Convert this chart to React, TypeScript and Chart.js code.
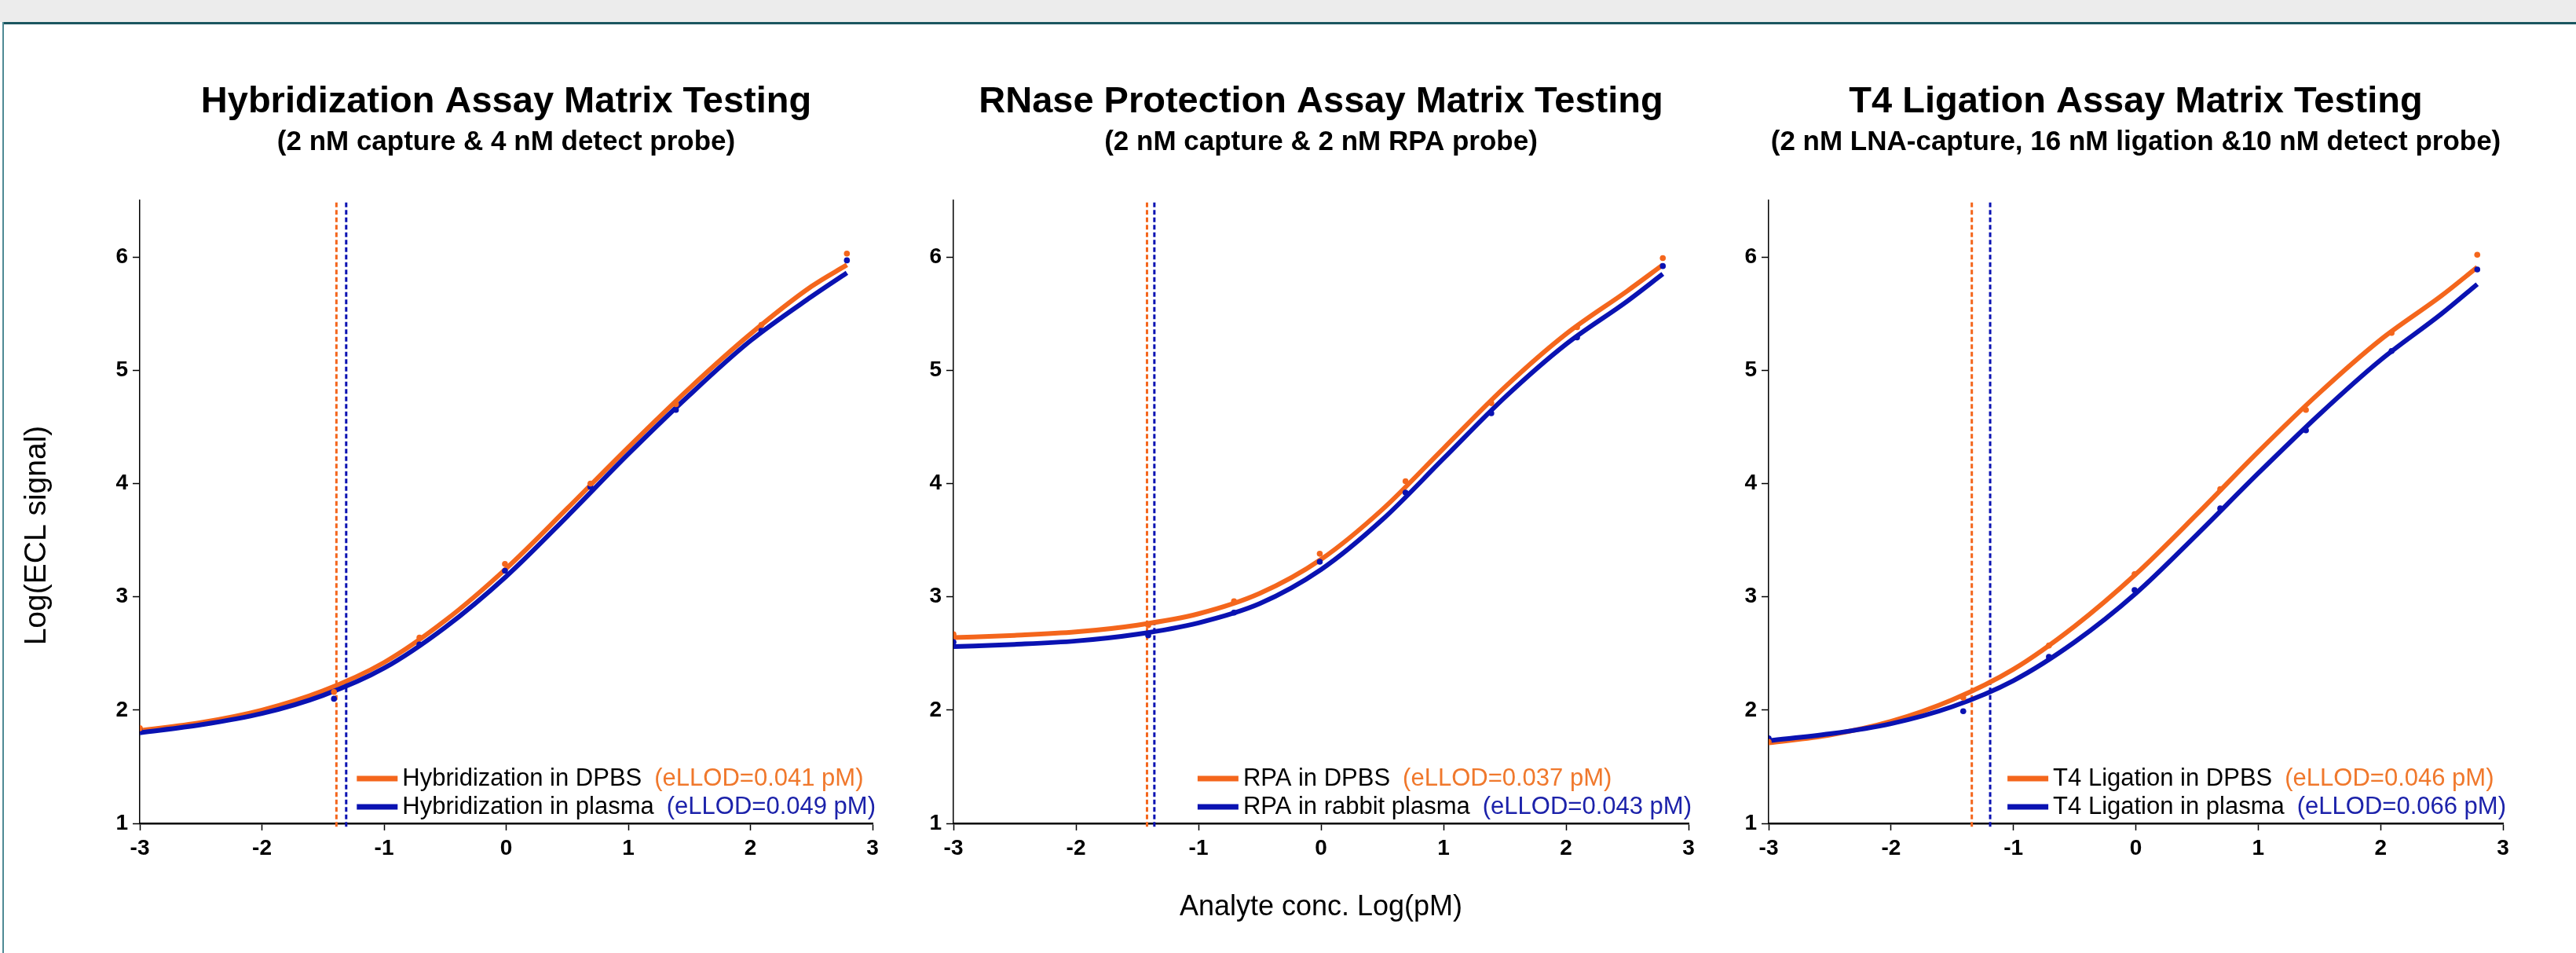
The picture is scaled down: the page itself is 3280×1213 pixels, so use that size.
import { useEffect, useRef } from "react";
import { Chart, registerables } from "chart.js";

Chart.register(...registerables);

const FONT = "'Liberation Sans', Arial, sans-serif";

const X_TICKS = [-3, -2, -1, 0, 1, 2, 3];
const Y_TICKS = [1, 2, 3, 4, 5, 6];

// log10 of analyte concentration (pM); -3 is the blank
const CONC_LOG = [-3, -1.41, -0.71, -0.01, 0.69, 1.39, 2.09, 2.79];
const FIT_X = [-3, -2.5, -2, -1.5, -1, -0.5, 0, 0.5, 1, 1.5, 2, 2.5, 2.79];

// Hybridization assay
const HYB_DPBS_PTS = [1.84, 2.16, 2.64, 3.29, 4.0, 4.7, 5.4, 6.03];
const HYB_PLASMA_PTS = [1.83, 2.1, 2.58, 3.23, 3.97, 4.65, 5.35, 5.97];
const HYB_DPBS_FIT = [1.82, 1.89, 2.0, 2.17, 2.42, 2.79, 3.25, 3.78, 4.32, 4.84, 5.32, 5.74, 5.93];
const HYB_PLASMA_FIT = [1.8, 1.87, 1.97, 2.13, 2.37, 2.73, 3.18, 3.71, 4.26, 4.78, 5.26, 5.65, 5.86];
const HYB_LLOD = [-1.39, -1.31];

// RNase protection assay
const RPA_DPBS_PTS = [2.67, 2.75, 2.96, 3.38, 4.02, 4.71, 5.38, 5.99];
const RPA_PLASMA_PTS = [2.6, 2.66, 2.86, 3.31, 3.92, 4.62, 5.29, 5.92];
const RPA_DPBS_FIT = [2.64, 2.66, 2.69, 2.75, 2.85, 3.03, 3.33, 3.77, 4.31, 4.85, 5.32, 5.7, 5.93];
const RPA_PLASMA_FIT = [2.56, 2.58, 2.61, 2.67, 2.77, 2.94, 3.24, 3.68, 4.22, 4.76, 5.23, 5.61, 5.85];
const RPA_LLOD = [-1.42, -1.36];

// T4 ligation assay
const T4_DPBS_PTS = [1.72, 2.11, 2.57, 3.2, 3.95, 4.65, 5.33, 6.02];
const T4_PLASMA_PTS = [1.75, 1.99, 2.47, 3.06, 3.78, 4.47, 5.17, 5.89];
const T4_DPBS_FIT = [1.71, 1.78, 1.9, 2.09, 2.36, 2.74, 3.2, 3.73, 4.28, 4.8, 5.27, 5.66, 5.91];
const T4_PLASMA_FIT = [1.73, 1.79, 1.88, 2.03, 2.26, 2.6, 3.03, 3.55, 4.09, 4.61, 5.09, 5.5, 5.76];
const T4_LLOD = [-1.34, -1.19];

const TITLES = [
  "Hybridization Assay Matrix Testing",
  "RNase Protection Assay Matrix Testing",
  "T4 Ligation Assay Matrix Testing",
];
const SUBTITLES = [
  "(2 nM capture & 4 nM detect probe)",
  "(2 nM capture & 2 nM RPA probe)",
  "(2 nM LNA-capture, 16 nM ligation &10 nM detect probe)",
];
const DPBS_LABELS = ["Hybridization in DPBS", "RPA in DPBS", "T4 Ligation in DPBS"];
const PLASMA_LABELS = ["Hybridization in plasma", "RPA in rabbit plasma", "T4 Ligation in plasma"];
const DPBS_LLOD_TEXT = ["(eLLOD=0.041 pM)", "(eLLOD=0.037 pM)", "(eLLOD=0.046 pM)"];
const PLASMA_LLOD_TEXT = ["(eLLOD=0.049 pM)", "(eLLOD=0.043 pM)", "(eLLOD=0.066 pM)"];

const Y_TITLE = "Log(ECL signal)";
const X_TITLE = "Analyte conc. Log(pM)";

const ORANGE = "#F4661C";
const BLUE = "#0A12B2";
const ORANGE_TEXT = "#F0782C";
const BLUE_TEXT = "#1C22AA";

const PANELS = [
  { pts: [HYB_DPBS_PTS, HYB_PLASMA_PTS], fit: [HYB_DPBS_FIT, HYB_PLASMA_FIT], llod: HYB_LLOD },
  { pts: [RPA_DPBS_PTS, RPA_PLASMA_PTS], fit: [RPA_DPBS_FIT, RPA_PLASMA_FIT], llod: RPA_LLOD },
  { pts: [T4_DPBS_PTS, T4_PLASMA_PTS], fit: [T4_DPBS_FIT, T4_PLASMA_FIT], llod: T4_LLOD },
];

// layout (page pixels)
const CANVAS_TOP = 30;
const CANVAS_H = 1183;
const AXIS_W = 178;
const RIGHT_PAD = 60;
const PLOT_LEFT = [178, 1214, 2252];
const PLOT_RIGHT = [1111, 2150, 3187];

const decorPlugin = {
  id: "panelDecor",
  afterDraw(chart: any, _args: any, opts: any) {
    const { ctx, chartArea } = chart;
    if (!opts || !opts.title) return;
    ctx.save();
    const cx = (chartArea.left + chartArea.right) / 2;
    ctx.fillStyle = "#000";
    ctx.textAlign = "center";
    ctx.textBaseline = "middle";
    ctx.font = `bold 47px ${FONT}`;
    ctx.fillText(opts.title, cx, chartArea.top - 125);
    ctx.font = `bold 35px ${FONT}`;
    ctx.fillText(opts.subtitle, cx, chartArea.top - 74);

    if (opts.yTitle) {
      ctx.save();
      ctx.translate(47, (chartArea.top + chartArea.bottom) / 2 + 30);
      ctx.rotate(-Math.PI / 2);
      ctx.font = `39px ${FONT}`;
      ctx.fillText(opts.yTitle, 0, 0);
      ctx.restore();
    }

    ctx.font = `31px ${FONT}`;
    const gap = 16;
    const rows = opts.rows;
    const widths = rows.map(
      (r: any) => ctx.measureText(r.label).width + gap + ctx.measureText(r.llod).width
    );
    const maxW = Math.max(...widths);
    const x0 = chartArea.right + 4 - maxW;
    rows.forEach((r: any, i: number) => {
      const y = chartArea.bottom - 57 + i * 36;
      ctx.strokeStyle = r.color;
      ctx.lineWidth = 7;
      ctx.beginPath();
      ctx.moveTo(x0 - 58, y);
      ctx.lineTo(x0 - 6, y);
      ctx.stroke();
      ctx.textAlign = "left";
      ctx.fillStyle = "#000";
      ctx.fillText(r.label, x0, y);
      const lw = ctx.measureText(r.label).width;
      ctx.fillStyle = r.textColor;
      ctx.fillText(r.llod, x0 + lw + gap, y);
    });
    ctx.restore();
  },
};

function PanelChart({ index }: { index: number }) {
  const ref = useRef<HTMLCanvasElement>(null);
  const left = PLOT_LEFT[index] - AXIS_W;
  const width = AXIS_W + (PLOT_RIGHT[index] - PLOT_LEFT[index]) + RIGHT_PAD;

  useEffect(() => {
    const p = PANELS[index];
    const toXY = (xs: number[], ys: number[]) => xs.map((x, i) => ({ x, y: ys[i] }));
    const tickFont = { family: FONT, size: 28, weight: "bold" as const };
    const chart = new Chart(ref.current as HTMLCanvasElement, {
      type: "scatter",
      data: {
        datasets: [
          {
            label: DPBS_LABELS[index] + " points",
            data: toXY(CONC_LOG, p.pts[0]),
            backgroundColor: ORANGE,
            borderColor: ORANGE,
            pointRadius: 3.8,
            borderWidth: 0,
            order: 0,
          },
          {
            label: PLASMA_LABELS[index] + " points",
            data: toXY(CONC_LOG, p.pts[1]),
            backgroundColor: BLUE,
            borderColor: BLUE,
            pointRadius: 3.8,
            borderWidth: 0,
            order: 0,
          },
          {
            label: PLASMA_LABELS[index],
            data: toXY(FIT_X, p.fit[1]),
            showLine: true,
            borderColor: BLUE,
            borderWidth: 6,
            pointRadius: 0,
            cubicInterpolationMode: "monotone",
            order: 1,
          },
          {
            label: DPBS_LABELS[index],
            data: toXY(FIT_X, p.fit[0]),
            showLine: true,
            borderColor: ORANGE,
            borderWidth: 6,
            pointRadius: 0,
            cubicInterpolationMode: "monotone",
            order: 2,
          },
          {
            label: DPBS_LLOD_TEXT[index],
            data: [
              { x: p.llod[0], y: 0.97 },
              { x: p.llod[0], y: 6.5 },
            ],
            showLine: true,
            borderColor: ORANGE,
            borderWidth: 3,
            borderDash: [6, 3.5],
            pointRadius: 0,
            clip: false as any,
            order: 3,
          },
          {
            label: PLASMA_LLOD_TEXT[index],
            data: [
              { x: p.llod[1], y: 0.97 },
              { x: p.llod[1], y: 6.5 },
            ],
            showLine: true,
            borderColor: BLUE,
            borderWidth: 3,
            borderDash: [6, 3.5],
            pointRadius: 0,
            clip: false as any,
            order: 3,
          },
        ],
      },
      options: {
        animation: false,
        responsive: false,
        devicePixelRatio: 1,
        events: [],
        layout: { padding: { top: 225, bottom: 25, left: 0, right: RIGHT_PAD } },
        plugins: {
          legend: { display: false },
          tooltip: { enabled: false },
          panelDecor: {
            title: TITLES[index],
            subtitle: SUBTITLES[index],
            yTitle: index === 0 ? Y_TITLE : "",
            rows: [
              { label: DPBS_LABELS[index], llod: DPBS_LLOD_TEXT[index], color: ORANGE, textColor: ORANGE_TEXT },
              { label: PLASMA_LABELS[index], llod: PLASMA_LLOD_TEXT[index], color: BLUE, textColor: BLUE_TEXT },
            ],
          },
        } as any,
        scales: {
          x: {
            type: "linear",
            min: -3,
            max: 3,
            afterBuildTicks: (s: any) => {
              s.ticks = X_TICKS.map((v) => ({ value: v }));
            },
            afterFit: (s: any) => {
              s.height = 140;
            },
            ticks: {
              font: tickFont,
              color: "#000",
              padding: 6,
              maxRotation: 0,
              autoSkip: false,
              callback: (v: any) => String(v),
            },
            grid: {
              display: true,
              drawOnChartArea: false,
              drawTicks: true,
              tickLength: 9,
              tickWidth: 1.5,
              tickColor: "#000",
            },
            border: { display: true, color: "#000", width: 2.5 },
            title: {
              display: index === 1,
              text: X_TITLE,
              color: "#000",
              font: { family: FONT, size: 36 },
              padding: { top: 0, bottom: 11 },
            },
          },
          y: {
            type: "linear",
            min: 1,
            max: 6.5,
            afterBuildTicks: (s: any) => {
              s.ticks = Y_TICKS.map((v) => ({ value: v }));
            },
            afterFit: (s: any) => {
              s.width = AXIS_W;
            },
            ticks: {
              font: tickFont,
              color: "#000",
              padding: 6,
              autoSkip: false,
              callback: (v: any) => String(v),
            },
            grid: {
              display: true,
              drawOnChartArea: false,
              drawTicks: true,
              tickLength: 9,
              tickWidth: 1.5,
              tickColor: "#000",
            },
            border: { display: true, color: "#000", width: 1.5 },
            title: { display: false },
          },
        },
      },
      plugins: [decorPlugin],
    });
    return () => chart.destroy();
  }, [index]);

  return (
    <canvas
      ref={ref}
      width={width}
      height={CANVAS_H}
      style={{ position: "absolute", left, top: CANVAS_TOP, width, height: CANVAS_H }}
    />
  );
}

export default function App() {
  return (
    <div
      style={{
        position: "absolute",
        left: 0,
        top: 0,
        width: 3280,
        height: 1213,
        background: "#ffffff",
        overflow: "hidden",
      }}
    >
      <div style={{ position: "absolute", left: 0, top: 0, width: 3280, height: 28, background: "#ececec" }} />
      <div style={{ position: "absolute", left: 3, top: 28, width: 3277, height: 3, background: "#1b5660" }} />
      <div style={{ position: "absolute", left: 3, top: 28, width: 2, height: 1185, background: "#4f8a94" }} />
      <PanelChart index={0} />
      <PanelChart index={1} />
      <PanelChart index={2} />
    </div>
  );
}
